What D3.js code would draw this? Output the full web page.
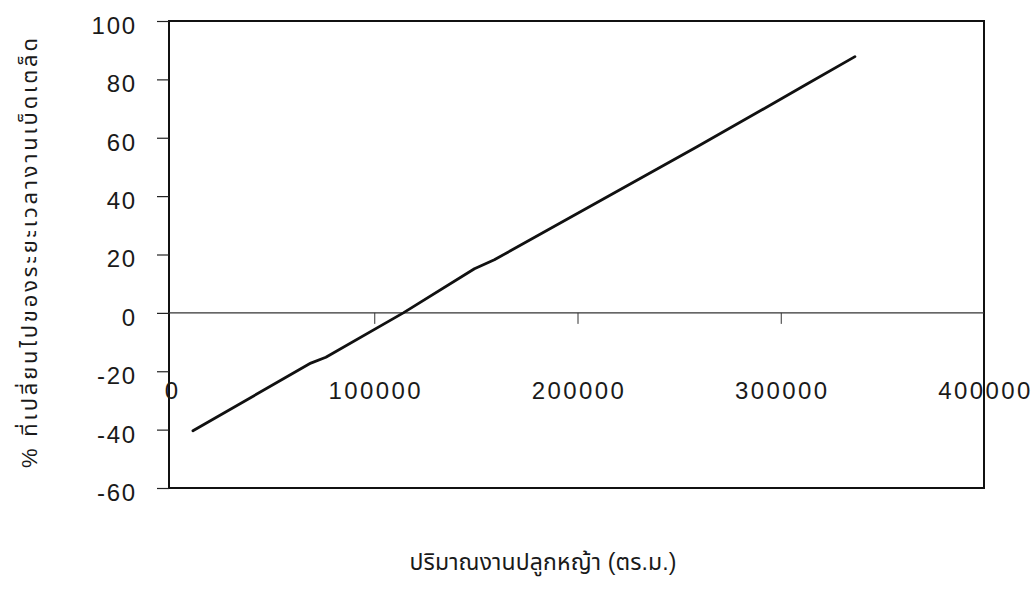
<!DOCTYPE html>
<html>
<head>
<meta charset="utf-8">
<script src="https://cdn.jsdelivr.net/npm/d3@7"></script>
<style>
  html, body { margin: 0; padding: 0; background: #fff; }
  svg text { font-family: "Liberation Sans", Arial, "Noto Sans", "Noto Sans Thai", sans-serif; fill: #1a1a1a; }
</style>
</head>
<body>
<svg id="chart" width="1034" height="601"></svg>
<script>
// Data
const areaValues = [10800, 68800, 76200, 114300, 149300, 159100, 258600, 312700, 336500];
const changeValues = [-40.4, -17.2, -15.2, 0, 15.1, 18.2, 56.8, 78.3, 87.8];
const xTicks = [0, 100000, 200000, 300000, 400000];
const yTicks = [-60, -40, -20, 0, 20, 40, 60, 80, 100];
const xTitle = "ปริมาณงานปลูกหญ้า (ตร.ม.)";
const yTitle = "% ที่เปลี่ยนไปของระยะเวลางานเบ็ดเตล็ด";

const svg = d3.select("#chart");
const pLeft = 169, pRight = 984, pTop = 21, pBottom = 488;

const x = d3.scaleLinear().domain([0, 400000]).range([pLeft + 2, pRight]);
const y = d3.scaleLinear().domain([-60, 100]).range([pBottom, pTop]);

const numFont = '"Liberation Sans", Arial, sans-serif';
const fmt = d => String(d);

// Frame
svg.append("rect")
  .attr("x", pLeft).attr("y", pTop)
  .attr("width", pRight - pLeft).attr("height", pBottom - pTop)
  .attr("fill", "none").attr("stroke", "#111").attr("stroke-width", 2);

// Y axis ticks + labels
const yAxis = d3.axisLeft(y).tickValues(yTicks).tickSize(12).tickPadding(20).tickFormat(fmt);
const gy = svg.append("g").attr("transform", `translate(${pLeft},0)`).call(yAxis);
gy.select(".domain").remove();
gy.selectAll(".tick line").attr("stroke", "#222").attr("stroke-width", 1.2);
gy.selectAll(".tick text").attr("font-size", 24).attr("dy", "0.52em")
  .style("font-family", numFont).style("letter-spacing", "1.8px").attr("fill", "#1a1a1a");

// X axis on the zero line
const xAxis = d3.axisBottom(x).tickValues(xTicks).tickSize(11).tickPadding(75).tickFormat(fmt);
const gx = svg.append("g").attr("transform", `translate(0,${y(0)})`).call(xAxis);
gx.select(".domain").attr("d", `M${pLeft},0H${pRight}`).attr("stroke", "#333").attr("stroke-width", 1.2);
gx.selectAll(".tick line").attr("stroke", "#333").attr("stroke-width", 1);
gx.selectAll(".tick").filter(d => d === 0 || d === 400000).select("line").remove();
gx.selectAll(".tick text").attr("font-size", 24).attr("dy", "0em").attr("dx", "1")
  .style("font-family", numFont).style("letter-spacing", "2.4px").attr("fill", "#1a1a1a");

// Line
const line = d3.line().x((d, i) => x(areaValues[i])).y(d => y(d));
svg.append("path").datum(changeValues)
  .attr("d", line)
  .attr("fill", "none").attr("stroke", "#111").attr("stroke-width", 2.8)
  .attr("stroke-linejoin", "round").attr("stroke-linecap", "round");

// Axis titles
svg.append("text").attr("x", 543).attr("y", 570).attr("text-anchor", "middle")
  .attr("font-size", 23).attr("textLength", 267).attr("lengthAdjust", "spacing").text(xTitle);
svg.append("text").attr("transform", "translate(37,253) rotate(-90)")
  .attr("text-anchor", "middle").attr("font-size", 22)
  .attr("textLength", 430).attr("lengthAdjust", "spacing").text(yTitle);
</script>
</body>
</html>
